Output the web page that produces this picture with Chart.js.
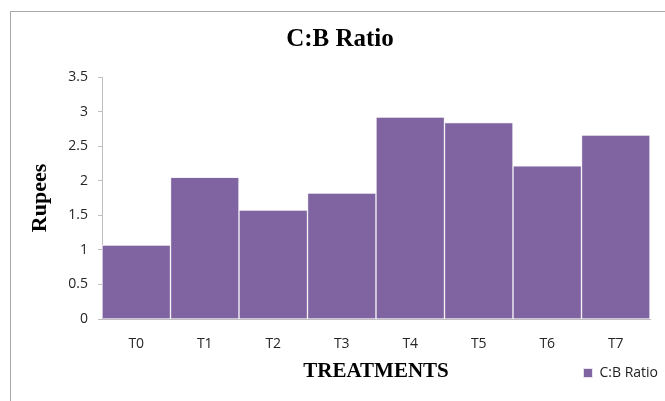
<!DOCTYPE html>
<html>
<head>
<meta charset="utf-8">
<script src="https://cdn.jsdelivr.net/npm/chart.js@4.4.1/dist/chart.umd.min.js"></script>
<style>
  html, body { margin: 0; padding: 0; background: #ffffff; overflow: hidden; }
  #frame { position: absolute; left: 10px; top: 11px; width: 720px; height: 480px; border: 1px solid #a8a8a8; box-sizing: border-box; }
  #wrap { position: absolute; left: 0; top: 0; width: 665px; height: 401px; }
</style>
</head>
<body>
<div id="frame"></div>
<div id="wrap"><canvas id="c" width="665" height="401"></canvas></div>
<script>
const categories = ['T0', 'T1', 'T2', 'T3', 'T4', 'T5', 'T6', 'T7'];
const cbRatio = [1.07, 2.05, 1.575, 1.82, 2.92, 2.84, 2.215, 2.66];
const yTickLabels = ['0', '0.5', '1', '1.5', '2', '2.5', '3', '3.5'];
const seriesName = 'C:B Ratio';
const chartTitle = 'C:B Ratio';
const xTitle = 'TREATMENTS';
const yTitle = 'Rupees';

const serif = "'Liberation Serif', 'Times New Roman', serif";
const sans = "'Open Sans', 'Liberation Sans', sans-serif";

new Chart(document.getElementById('c'), {
  type: 'bar',
  data: {
    labels: categories,
    datasets: [{
      label: seriesName,
      data: cbRatio,
      backgroundColor: '#8064A2',
      borderColor: '#f4f2f7',
      borderWidth: { top: 1, left: 1, right: 1, bottom: 0 },
      borderSkipped: 'bottom',
      barPercentage: 1,
      categoryPercentage: 1
    }]
  },
  options: {
    responsive: false,
    animation: false,
    devicePixelRatio: 1,
    layout: { padding: { left: 22, right: 7, top: 0, bottom: 11 } },
    plugins: {
      title: {
        display: true,
        text: chartTitle,
        color: '#000000',
        font: { family: serif, size: 25, weight: 'bold', lineHeight: 1.2 },
        padding: { top: 25, bottom: 22 }
      },
      legend: {
        display: true,
        position: 'bottom',
        align: 'end',
        labels: {
          color: '#222222',
          font: { family: sans, size: 14 },
          boxWidth: 9,
          boxHeight: 9,
          padding: 0
        }
      },
      tooltip: { enabled: false }
    },
    scales: {
      x: {
        grid: { display: false },
        border: { display: true, color: '#bfbfbf', width: 1 },
        ticks: { color: '#262626', font: { family: sans, size: 14 }, padding: 9 },
        title: {
          display: true,
          text: xTitle,
          color: '#000000',
          font: { family: serif, size: 21, weight: 'bold', lineHeight: 1.2 },
          padding: { top: 0, bottom: -18 }
        },
        afterFit: (scale) => { scale.height = 47; }
      },
      y: {
        min: 0,
        max: 3.5,
        grid: { display: true, drawOnChartArea: false, drawTicks: true, tickLength: 4, color: '#bfbfbf' },
        border: { display: true, color: '#bfbfbf', width: 1 },
        ticks: {
          stepSize: 0.5,
          color: '#262626',
          font: { family: sans, size: 14 },
          padding: 10,
          callback: (v, i) => yTickLabels[i]
        },
        title: {
          display: true,
          text: yTitle,
          color: '#000000',
          font: { family: serif, size: 22, weight: 'bold', lineHeight: 1.2 },
          padding: { top: 5, bottom: 0 }
        },
        afterFit: (scale) => { scale.width = 80; }
      },
      yRightGap: {
        position: 'right',
        display: true,
        grid: { display: false },
        border: { display: false },
        ticks: { display: false },
        afterFit: (scale) => { scale.width = 8; }
      }
    }
  }
});
</script>
</body>
</html>
